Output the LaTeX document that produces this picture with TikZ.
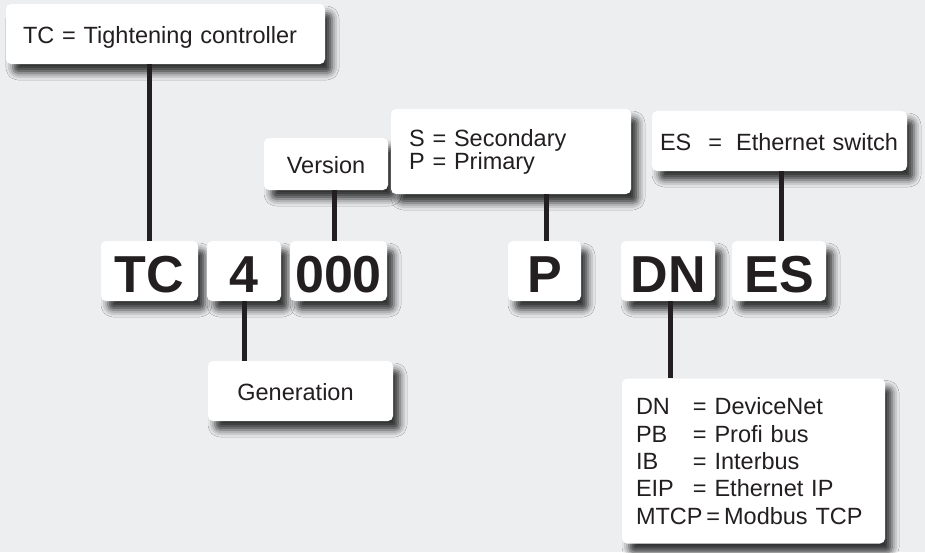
\documentclass[tikz,border=0pt]{standalone}
\usepackage{fontspec}
\setmainfont{Liberation Sans}
\usetikzlibrary{shadows.blur}
\definecolor{bggray}{HTML}{ECEEF0}
\definecolor{ink}{HTML}{231F20}
\tikzset{
  card/.style={draw=none, fill=white, rounded corners=5pt, inner sep=0pt,
    blur shadow={shadow xshift=7pt, shadow yshift=-9pt, shadow blur radius=7pt, shadow opacity=78}},
  codebox/.style={card, minimum height=60pt, text height=42pt, text depth=0pt,
    font=\fontsize{52}{52}\selectfont\bfseries},
  labelbox/.style={card, font=\fontsize{23.5}{22}\selectfont, text height=22pt, text depth=4pt},
  link/.style={draw=ink, line width=5pt}
}
\begin{document}
\begin{tikzpicture}[x=1pt,y=-1pt,text=ink]
        \fill[bggray] (0,0) rectangle (925,552);
        \useasboundingbox (0,0) rectangle (925,552);
        % code letters
        \node[codebox, minimum width=97pt] (bigTC) at (149.5,271) {TC};
        \node[codebox, minimum width=74pt] (bigGen) at (244,271) {4};
        \node[codebox, minimum width=97pt] (bigVer) at (338.5,271) {000};
        \node[codebox, minimum width=73pt] (bigP) at (544.5,271) {P};
        \node[codebox, minimum width=94pt] (bigDN) at (668,271) {DN};
        \node[codebox, minimum width=94pt] (bigES) at (779,271) {ES};
        % explanations
        \node[labelbox, minimum height=60pt, text width=285pt, inner xsep=17pt, align=left] (lblTC) at (165.5,34) {TC = Tightening controller};
        \node[labelbox, minimum height=52pt, minimum width=124pt] (lblVer) at (326,164) {Version};
        \node[labelbox, minimum height=60pt, text width=157pt, inner xsep=14pt, align=center] (lblGen) at (300.5,391) {\hspace*{-10pt}Generation};
        \node[labelbox, minimum height=60pt, text width=239pt, inner xsep=8pt, align=left] (lblES) at (779.5,141) {ES\hspace{17pt}=\hspace{14pt}Ethernet switch};
        \node[card, font=\fontsize{23.5}{21.6}\selectfont, minimum height=85pt, text width=204pt, inner xsep=18pt, align=left] (lblSP) at (511,151.5) {S = Secondary\\P = Primary};
        \node[card, font=\fontsize{23.5}{27.3}\selectfont, minimum height=165pt, text width=235pt, inner xsep=14pt, align=left] (lblDN) at (753.5,461)
          {\makebox[57pt][l]{DN}= DeviceNet\\
           \makebox[57pt][l]{PB}= Profi bus\\
           \makebox[57pt][l]{IB}= Interbus\\
           \makebox[57pt][l]{EIP}= Ethernet IP\\
           MTCP\,=\,Modbus TCP};
        % connectors
        \draw[link] (lblTC.south -| bigTC.north) -- (bigTC.north);
        \draw[link] ([xshift=-4pt]bigVer.north |- lblVer.south) -- ([xshift=-4pt]bigVer.north);
        \draw[link] (bigGen.south) -- (bigGen.south |- lblGen.north);
        \draw[link] ([xshift=1.5pt]bigP.north |- lblSP.south) -- ([xshift=1.5pt]bigP.north);
        \draw[link] ([xshift=2pt]bigES.north |- lblES.south) -- ([xshift=2pt]bigES.north);
        \draw[link] ([xshift=2pt]bigDN.south) -- ([xshift=2pt]bigDN.south |- lblDN.north);
\end{tikzpicture}
\end{document}
